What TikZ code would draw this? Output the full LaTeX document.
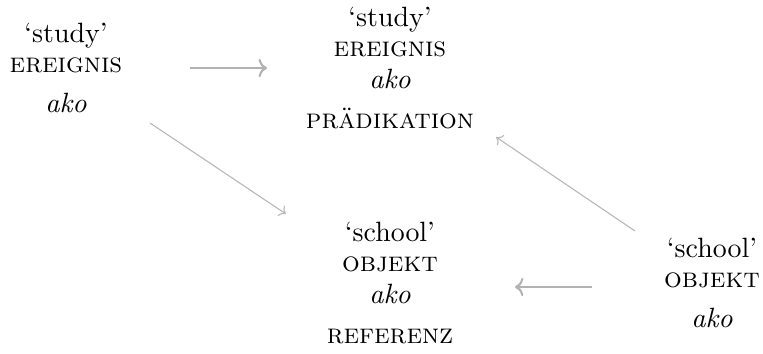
\documentclass[tikz,border=0pt]{standalone}
\usetikzlibrary{arrows.meta}
\begin{document}
\begin{tikzpicture}[x=0.3584pt,y=-0.3584pt,
  lbl/.style={align=center,inner sep=0pt,anchor=base},
  thinarr/.style={draw=black!28,line width=0.4pt,-{To[length=2.2pt,width=4.4pt]}},
  thickarr/.style={draw=black!30,line width=0.75pt,-{To[length=3pt,width=6.5pt]}}]
\useasboundingbox (0,0) rectangle (763,354);
\node[lbl] (l1) at (66,112) {`study'\\[-1.2pt]\textsc{ereignis}\\[2pt]\textit{ako}};
\node[lbl] (t1) at (390,128) {`study'\\[-1.2pt]\textsc{ereignis}\\[-0.5pt]\textit{ako}\\[2pt]\textsc{prädikation}};
\node[lbl] (b1) at (390,343) {`school'\\[-1.2pt]\textsc{objekt}\\[-0.5pt]\textit{ako}\\[2pt]\textsc{referenz}};
\node[lbl] (r1) at (712,327) {`school'\\[-1.2pt]\textsc{objekt}\\[2pt]\textit{ako}};
\coordinate (h1s) at (190,68);
\coordinate (h1e) at (267,68);
\coordinate (d1s) at (150,123);
\coordinate (d1e) at (286,214);
\coordinate (d2s) at (635,231);
\coordinate (d2e) at (496,137);
\coordinate (h2s) at (592,287);
\coordinate (h2e) at (515,287);
\draw[thickarr] (h1s) -- (h1e);
\draw[thinarr] (d1s) -- (d1e);
\draw[thinarr] (d2s) -- (d2e);
\draw[thickarr] (h2s) -- (h2e);
\end{tikzpicture}
\end{document}
